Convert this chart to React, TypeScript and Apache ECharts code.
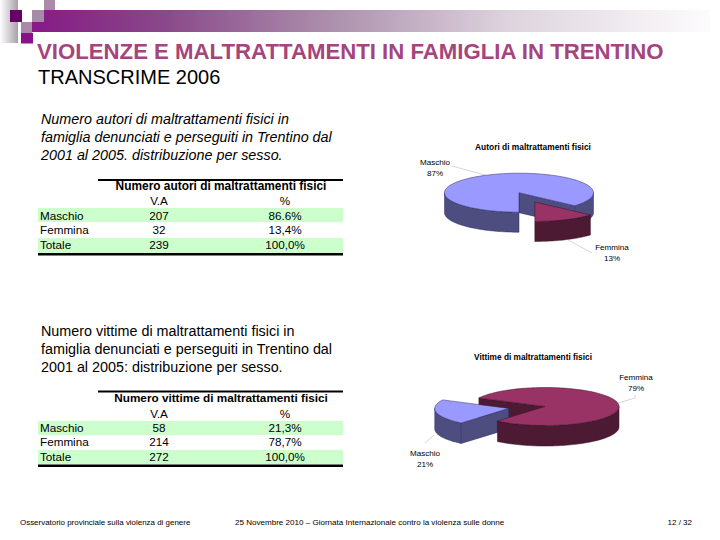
import React, { useEffect, useRef } from "react";
import * as echarts from "echarts";

const FONT = "'Liberation Sans', Arial, sans-serif";

const slideTitle = "VIOLENZE E MALTRATTAMENTI IN FAMIGLIA IN TRENTINO";
const slideSubtitle = "TRANSCRIME 2006";
const footerLeft = "Osservatorio provinciale sulla violenza di genere";
const footerCenter = "25 Novembre 2010 – Giornata Internazionale contro la violenza sulle donne";
const footerRight = "12 / 32";

const categories = ["Maschio", "Femmina"];
const totalLabel = "Totale";
const colHeaders = ["V.A", "%"];

const authorsText = [
  "Numero autori di maltrattamenti fisici in",
  "famiglia denunciati e perseguiti in Trentino dal",
  "2001 al 2005. distribuzione per sesso.",
];
const authorsTableTitle = "Numero autori di maltrattamenti fisici";
const authorsChartTitle = "Autori di maltrattamenti fisici";
const authorsCounts = [207, 32];
const authorsTotal = 239;
const authorsPct = ["86.6%", "13,4%", "100,0%"];
const authorsShares = [86.6, 13.4];
const authorsPie = ["87%", "13%"];

const victimsText = [
  "Numero vittime di maltrattamenti fisici in",
  "famiglia denunciati e perseguiti in Trentino dal",
  "2001 al 2005: distribuzione per sesso.",
];
const victimsTableTitle = "Numero vittime di maltrattamenti fisici";
const victimsChartTitle = "Vittime di maltrattamenti fisici";
const victimsCounts = [58, 214];
const victimsTotal = 272;
const victimsPct = ["21,3%", "78,7%", "100,0%"];
const victimsShares = [21.3, 78.7];
const victimsPie = ["21%", "79%"];

const topColors = ["#9999FF", "#993366"];
const wallColors = ["#4D4D80", "#4D1A33"];
const edgeColors = ["#2A2A66", "#3A1026"];

type PieLayout = { cx: number; cy: number; rx: number; ry: number; depth: number; start: number; explode: number[] };

function rad(d: number) {
  return (d * Math.PI) / 180;
}

function makePieSeries(shares: number[], layout: PieLayout) {
  const total = shares.reduce((a, b) => a + b, 0);
  const slices: any[] = [];
  let acc = layout.start;
  shares.forEach((s, i) => {
    const a = acc;
    const b = acc + (s / total) * 360;
    acc = b;
    const mid = rad((a + b) / 2);
    const cx = layout.cx + Math.sin(mid) * layout.explode[i] * layout.rx;
    const cy = layout.cy - Math.cos(mid) * layout.explode[i] * layout.ry;
    let frontY = -Infinity;
    for (let t = a; t <= b; t += 1) frontY = Math.max(frontY, cy - Math.cos(rad(t)) * layout.ry);
    slices.push({ a, b, cx, cy, frontY });
  });
  const lastIdx = slices[0].frontY > slices[1].frontY ? 0 : 1;

  const pt = (s: any, t: number, drop = 0) => [
    s.cx + Math.sin(rad(t)) * layout.rx,
    s.cy - Math.cos(rad(t)) * layout.ry + drop,
  ];
  const arc = (s: any, from: number, to: number, drop = 0) => {
    const pts: number[][] = [];
    const n = Math.max(2, Math.ceil((to - from) / 2));
    for (let k = 0; k <= n; k++) pts.push(pt(s, from + ((to - from) * k) / n, drop));
    return pts;
  };

  return {
    type: "custom",
    coordinateSystem: "none",
    silent: true,
    clip: false,
    data: shares.map((v) => [v]),
    renderItem: (params: any) => {
      const i = params.dataIndex;
      const s = slices[i];
      const isLast = i === lastIdx;
      const base = isLast ? 20 : 10;
      const children: any[] = [];
      const add = (points: number[][], fill: string, z2: number) =>
        children.push({
          type: "polygon",
          z2,
          shape: { points },
          style: { fill, stroke: edgeColors[i], lineWidth: 0.5 },
        });
      const sinA = Math.sin(rad(s.a));
      const sinB = Math.sin(rad(s.b));
      const cutZ = isLast ? 1 : base;
      if (sinA < -1e-6) {
        const r = pt(s, s.a);
        add([[s.cx, s.cy], r, [r[0], r[1] + layout.depth], [s.cx, s.cy + layout.depth]], wallColors[i], cutZ);
      }
      if (sinB > 1e-6) {
        const r = pt(s, s.b);
        add([[s.cx, s.cy], r, [r[0], r[1] + layout.depth], [s.cx, s.cy + layout.depth]], wallColors[i], cutZ);
      }
      for (let k = -1; k <= 2; k++) {
        const from = Math.max(s.a, 90 + 360 * k);
        const to = Math.min(s.b, 270 + 360 * k);
        if (to > from) {
          add([...arc(s, from, to), ...arc(s, from, to, layout.depth).reverse()], wallColors[i], base + 1);
        }
      }
      add([[s.cx, s.cy], ...arc(s, s.a, s.b)], topColors[i], base + 2);
      return { type: "group", children };
    },
  };
}

function txt(text: string, x: number, y: number, size: number, extra: any = {}, align = "left") {
  return {
    type: "text",
    x,
    y,
    silent: true,
    style: {
      text,
      fontFamily: FONT,
      fontSize: size,
      fill: "#000",
      textAlign: align,
      textVerticalAlign: "middle",
      ...extra,
    },
  };
}
function box(x: number, y: number, w: number, h: number, fill: string) {
  return { type: "rect", silent: true, shape: { x, y, width: w, height: h }, style: { fill } };
}
function leader(points: number[][]) {
  return { type: "polyline", silent: true, shape: { points }, style: { stroke: "#BBBBBB", lineWidth: 0.6, fill: "none" } };
}

function table(
  title: string,
  titleSize: number,
  counts: number[],
  total: number,
  pct: string[],
  top: number,
  headY: number,
  colY: number,
  rowY: number[],
  bands: number[][],
  bottom: number
) {
  const out: any[] = [];
  const L = 38;
  const R = 343;
  out.push(box(98, top, R - 98, 2, "#000"));
  bands.forEach((b) => out.push(box(L, b[0], R - L, b[1] - b[0], "#CCFFCC")));
  out.push(box(L, bottom, R - L, 2.4, "#000"));
  out.push(txt(title, 221, headY, titleSize, { fontWeight: "bold" }, "center"));
  out.push(txt(colHeaders[0], 159, colY, 11.7, {}, "center"));
  out.push(txt(colHeaders[1], 285, colY, 11.7, {}, "center"));
  const labels = [...categories, totalLabel];
  const vals = [...counts, total];
  labels.forEach((l, i) => {
    out.push(txt(l, 40, rowY[i], 11.7));
    out.push(txt(String(vals[i]), 159, rowY[i], 11.7, {}, "center"));
    out.push(txt(pct[i], 285, rowY[i], 11.7, {}, "center"));
  });
  return out;
}

function header() {
  const out: any[] = [];
  out.push({
    type: "rect",
    silent: true,
    shape: { x: 0, y: 0, width: 18, height: 43 },
    style: {
      fill: new echarts.graphic.LinearGradient(0, 0, 1, 0, [
        { offset: 0, color: "#FFFFFF" },
        { offset: 1, color: "#A8A0A8" },
      ]),
    },
  });
  out.push({
    type: "rect",
    silent: true,
    shape: { x: 32, y: 10, width: 678, height: 22 },
    style: {
      fill: new echarts.graphic.LinearGradient(0, 0, 1, 0, [
        { offset: 0, color: "#851A85" },
        { offset: 0.2, color: "#8A4A8A" },
        { offset: 0.45, color: "#AE92AE" },
        { offset: 0.7, color: "#DDD3DD" },
        { offset: 1, color: "#FDFCFD" },
      ]),
    },
  });
  out.push(box(10, 10, 12, 12, "#660066"));
  out.push(box(32, 10, 12, 12, "#A98BA9"));
  out.push(box(44, 0, 11, 10, "#A98BA9"));
  out.push(box(21, 22, 11, 11, "#A98BA9"));
  out.push(box(32, 22, 12, 10, "#8A1A8A"));
  out.push(box(21, 33, 12, 10.5, "#8A0F8A"));
  return out;
}

export default function App() {
  const ref = useRef<HTMLDivElement>(null);
  useEffect(() => {
    const chart = echarts.init(ref.current!, undefined, { renderer: "svg", width: 720, height: 540 });
    const elements: any[] = [
      ...header(),
      txt(slideTitle, 37, 51, 22.2, { fill: "#A5457B", fontWeight: "bold" }),
      txt(slideSubtitle, 38, 77, 20),
      ...authorsText.map((l, i) => txt(l, 41, 119 + i * 18, 14.35, { fontStyle: "italic" })),
      ...victimsText.map((l, i) => txt(l, 41, 331 + i * 18, 14.35)),
      ...table(authorsTableTitle, 11.9, authorsCounts, authorsTotal, authorsPct, 179, 186, 200.5, [215.5, 229.5, 244.5], [[208, 222], [238, 253]], 253),
      ...table(victimsTableTitle, 11.75, victimsCounts, victimsTotal, victimsPct, 390.5, 397.5, 413.5, [427.5, 441.5, 456.5], [[421, 435], [450, 464.5]], 464.5),
      txt(authorsChartTitle, 533, 146.5, 8.4, { fontWeight: "bold" }, "center"),
      txt(categories[0], 435, 162, 8.1, {}, "center"),
      txt(authorsPie[0], 435, 173, 8.1, {}, "center"),
      txt(categories[1], 612, 247, 8.1, {}, "center"),
      txt(authorsPie[1], 612, 258, 8.1, {}, "center"),
      leader([[452, 166], [485, 175]]),
      leader([[568, 240], [592, 253]]),
      txt(victimsChartTitle, 533, 356.5, 8.3, { fontWeight: "bold" }, "center"),
      txt(categories[1], 636, 377, 8.1, {}, "center"),
      txt(victimsPie[1], 636, 388, 8.1, {}, "center"),
      txt(categories[0], 425, 453, 8.1, {}, "center"),
      txt(victimsPie[0], 425, 464, 8.1, {}, "center"),
      leader([[635, 395], [635, 398], [618, 403]]),
      leader([[434, 435], [425, 443]]),
      txt(footerLeft, 20, 522, 7.95),
      txt(footerCenter, 235, 522, 8.05),
      txt(footerRight, 692, 522, 8, {}, "right"),
    ];
    chart.setOption({
      animation: false,
      backgroundColor: "#FFFFFF",
      graphic: { elements },
      series: [
        makePieSeries(authorsShares, { cx: 519, cy: 192.7, rx: 74.5, ry: 19.5, depth: 20, start: 180, explode: [0, 0.52] }),
        makePieSeries(victimsShares, { cx: 545, cy: 406.5, rx: 74, ry: 19, depth: 20.5, start: 220, explode: [0.5, 0] }),
      ],
    });
    return () => chart.dispose();
  }, []);
  return <div ref={ref} style={{ position: "absolute", left: 0, top: 0, width: 720, height: 540 }} />;
}
